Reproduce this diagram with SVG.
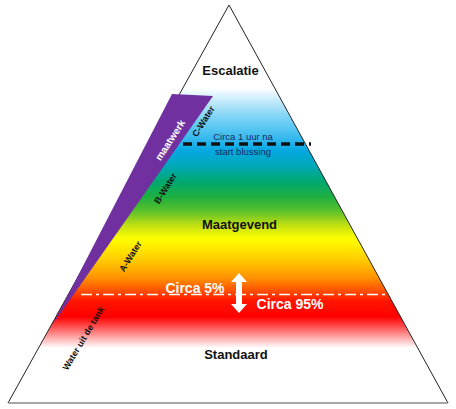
<svg xmlns="http://www.w3.org/2000/svg" width="456" height="409" viewBox="0 0 456 409">
<defs>
<linearGradient id="band" gradientUnits="userSpaceOnUse" x1="0" y1="88" x2="0" y2="348">
<stop offset="0" stop-color="#ffffff"/>
<stop offset="0.05" stop-color="#c4eafb"/>
<stop offset="0.11" stop-color="#80d4f5"/>
<stop offset="0.2" stop-color="#30b7ee"/>
<stop offset="0.24" stop-color="#05a8e2"/>
<stop offset="0.3" stop-color="#00a9b8"/>
<stop offset="0.36" stop-color="#00a870"/>
<stop offset="0.42" stop-color="#20b040"/>
<stop offset="0.47" stop-color="#55bf2c"/>
<stop offset="0.53" stop-color="#c4e010"/>
<stop offset="0.58" stop-color="#ffff00"/>
<stop offset="0.66" stop-color="#ffcc00"/>
<stop offset="0.73" stop-color="#ff9200"/>
<stop offset="0.78" stop-color="#ff5000"/>
<stop offset="0.82" stop-color="#ff1400"/>
<stop offset="0.88" stop-color="#ff0000"/>
<stop offset="0.93" stop-color="#ff6a6a"/>
<stop offset="1" stop-color="#ffffff"/>
</linearGradient>
<clipPath id="tri"><polygon points="229,5 8,403 448,403"/></clipPath>
</defs>
<style>
.lbl{font-family:"Liberation Sans",Arial,sans-serif;font-weight:bold;fill:#111;text-anchor:middle}
.rot{font-family:"Liberation Sans",Arial,sans-serif;font-weight:bold;font-size:9px;fill:#111;text-anchor:middle}
.wht{font-family:"Liberation Sans",Arial,sans-serif;font-weight:bold;font-size:14px;fill:#fff;text-anchor:middle}
.note{font-family:"Liberation Sans",Arial,sans-serif;font-size:9.5px;fill:#1c2a5c;text-anchor:middle}
</style>
<g id="pyramid">
<rect x="0" y="85" width="456" height="270" fill="url(#band)" clip-path="url(#tri)"/>
<polyline points="8,403 229,5 448,403" fill="none" stroke="#222" stroke-width="1"/>
<line x1="8" y1="403" x2="448" y2="403" stroke="#8a8a8a" stroke-width="1.5"/>
</g>
<g id="maatwerk">
<polygon points="172,94 213,96 53,324" fill="#7030a0"/>
<text class="rot" style="fill:#fff;font-size:10px" transform="translate(173,142) rotate(-57)">maatwerk</text>
</g>
<g id="connectors">
<line x1="183" y1="144" x2="311" y2="144" stroke="#111" stroke-width="3.5" stroke-dasharray="9 5"/>
<line x1="81" y1="294.5" x2="387" y2="294.5" stroke="#fff" stroke-width="1.6" stroke-dasharray="11 4 3 4"/>
<polygon id="arrow" points="239,273 247,282 242,282 242,304 247,304 239,313 231,304 236,304 236,282 231,282" fill="#fff"/>
</g>
<g id="escalatie"><text class="lbl" font-size="13" x="230.5" y="75">Escalatie</text></g>
<g id="maatgevend"><text class="lbl" font-size="13" x="239.5" y="229">Maatgevend</text></g>
<g id="standaard"><text class="lbl" font-size="13" x="236" y="359">Standaard</text></g>
<g id="note1uur">
<text class="note" x="243" y="140">Circa 1 uur na</text>
<text class="note" x="243" y="155">start blussing</text>
</g>
<g id="pct">
<text class="wht" x="195" y="293">Circa 5%</text>
<text class="wht" x="290" y="309">Circa 95%</text>
</g>
<g id="waters">
<text class="rot" transform="translate(206,123) rotate(-58)">C-Water</text>
<text class="rot" transform="translate(168,190) rotate(-58)">B-Water</text>
<text class="rot" transform="translate(133,258) rotate(-58)">A-Water</text>
<text class="rot" transform="translate(86,340) rotate(-59)">Water uit de tank</text>
</g>
</svg>
